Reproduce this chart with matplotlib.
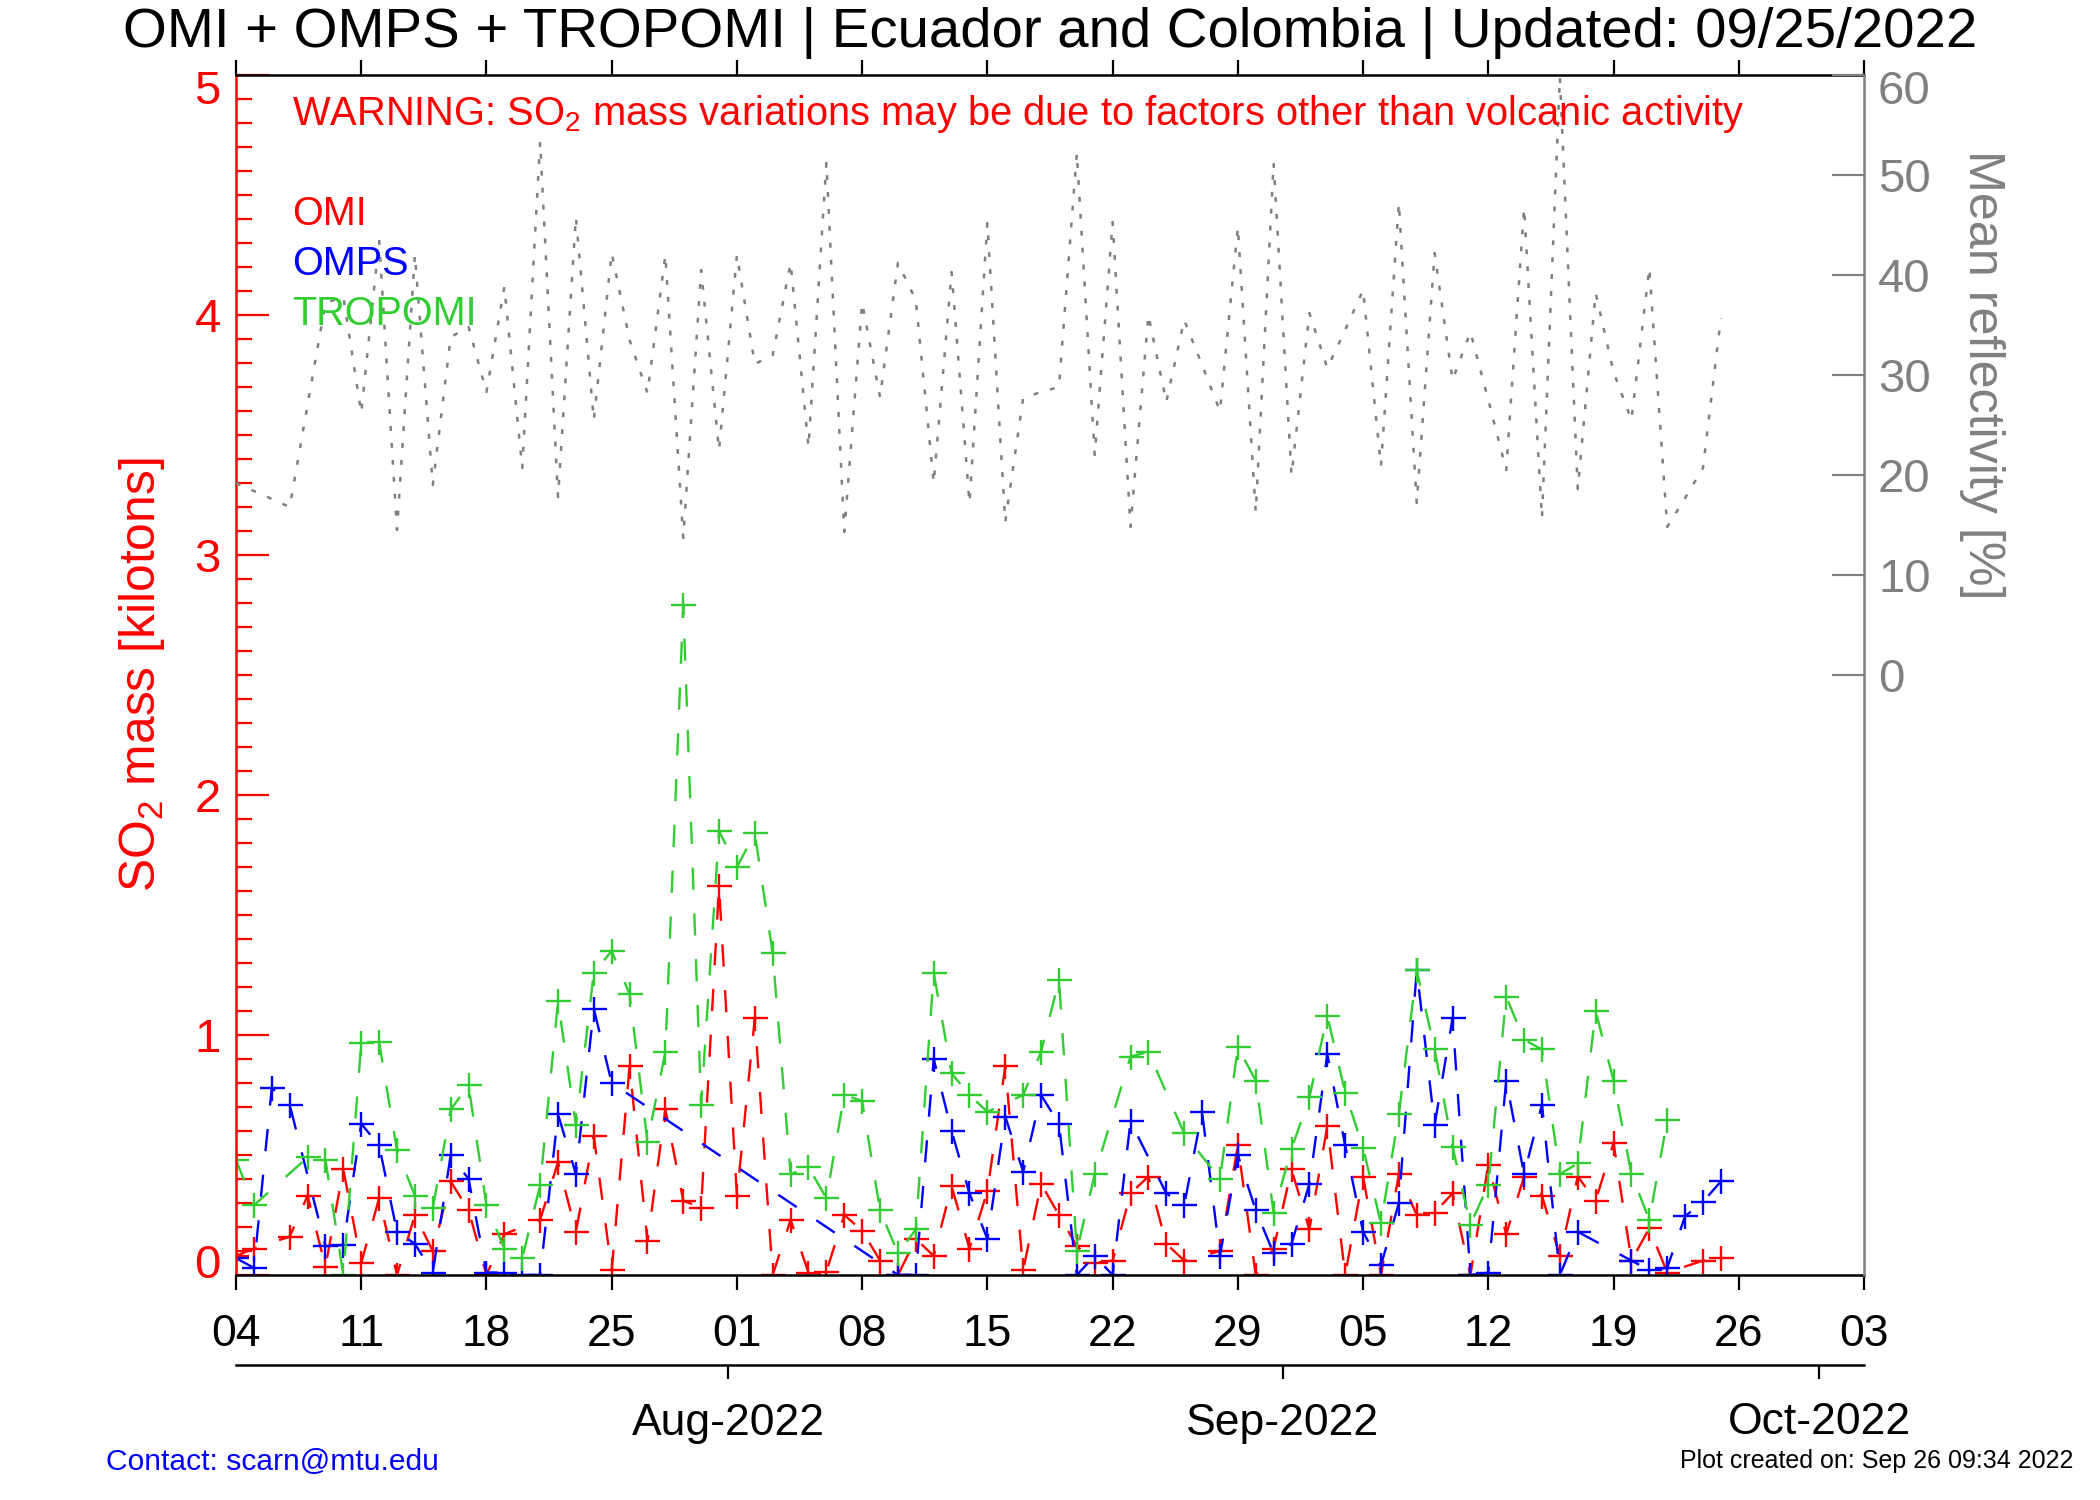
import numpy as np
import matplotlib
matplotlib.use('Agg')
import matplotlib.pyplot as plt
import matplotlib.dates as mdates
from matplotlib.ticker import MultipleLocator, FixedLocator
from matplotlib.transforms import ScaledTranslation

plt.rcParams['font.family'] = ['Liberation Sans', 'DejaVu Sans']
plt.rcParams['mathtext.fontset'] = 'custom'
plt.rcParams['mathtext.rm'] = 'Liberation Sans'
plt.rcParams['mathtext.it'] = 'Liberation Sans:italic'
plt.rcParams['mathtext.default'] = 'regular'
plt.rcParams['lines.scale_dashes'] = False

nan = np.nan

# ---------------- data (one value per day, starting 2022-07-04) ----------------
start_date = '2022-07-04T12:00'
axis_start = '2022-07-04T12:00'
axis_end = '2022-10-03T12:00'

omi = [0.08, 0.11, nan, 0.16, 0.33, 0.035, 0.44, 0.05, 0.32, 0.0,
       0.25, 0.10, 0.39, 0.27, 0.0, 0.17, nan, 0.23, 0.47, 0.18,
       0.58, 0.02, 0.87, 0.14, 0.69, 0.31, 0.28, 1.62, 0.33, 1.07,
       0.0, 0.23, 0.01, 0.014, 0.25, 0.185, 0.06, 0.0, 0.15, 0.08,
       0.37, 0.11, 0.35, 0.87, 0.02, 0.38, 0.25, 0.12, 0.05, 0.06,
       0.34, 0.41, 0.13, 0.06, nan, 0.10, 0.54, 0.0, 0.11, 0.44,
       0.19, 0.62, 0.0, 0.41, 0.0, 0.42, 0.25, 0.26, 0.34, 0.0,
       0.46, 0.17, 0.41, 0.33, 0.08, 0.41, 0.31, 0.55, 0.06, 0.195,
       0.01, nan, 0.06, 0.07]

omps = [0.07, 0.03, 0.78, 0.71, nan, 0.12, 0.125, 0.63, 0.54, 0.18,
        0.13, 0.01, 0.50, 0.40, 0.01, 0.01, 0.0, 0.0, 0.67, 0.42,
        1.11, 0.80, nan, nan, nan, nan, nan, nan, nan, nan,
        nan, nan, nan, nan, nan, nan, nan, 0.0, 0.0, 0.90,
        0.60, 0.34, 0.15, 0.66, 0.43, 0.75, 0.63, 0.0, 0.08, 0.0,
        0.64, nan, 0.34, 0.29, 0.68, 0.08, 0.50, 0.27, 0.09, 0.13,
        0.38, 0.92, 0.54, 0.18, 0.04, 0.30, 1.27, 0.625, 1.07, 0.0,
        0.01, 0.81, 0.42, 0.71, 0.0, 0.18, nan, nan, 0.06, 0.02,
        0.03, 0.245, 0.305, 0.39]

tropomi = [0.48, 0.29, nan, nan, 0.49, 0.48, 0.0, 0.965, 0.97, 0.52,
           0.33, 0.28, 0.69, 0.79, 0.29, 0.11, 0.07, 0.375, 1.14, 0.625,
           1.26, 1.35, 1.17, 0.555, 0.93, 2.79, 0.71, 1.85, 1.70, 1.84,
           1.34, 0.42, 0.45, 0.32, 0.75, 0.725, 0.27, 0.09, 0.19, 1.26,
           0.84, 0.75, 0.68, nan, 0.75, 0.93, 1.23, 0.10, 0.42, nan,
           0.91, 0.93, nan, 0.59, nan, 0.40, 0.95, 0.81, 0.26, 0.525,
           0.74, 1.08, 0.76, 0.53, 0.215, 0.67, 1.27, 0.94, 0.535, 0.21,
           0.375, 1.16, 0.98, 0.94, 0.42, 0.465, 1.10, 0.81, 0.42, 0.23,
           0.645, nan, nan, nan]

reflectivity = [19.2, nan, nan, 16.8, nan, 37.2, 37.8, 26.2, 43.5, 14.5,
                42.0, 19.0, 33.8, 34.8, 28.3, 38.8, 20.7, 53.3, 17.8, 45.8,
                25.5, 42.2, 33.5, 28.2, 42.0, 13.7, 40.5, 22.5, 42.0, 31.1,
                32.0, 41.2, 22.8, 51.2, 14.3, 37.2, 27.8, 41.2, 37.5, 19.2,
                40.3, 17.2, 45.2, 15.3, 27.7, 28.3, 28.8, 52.2, 22.0, 45.3,
                14.8, 36.0, 27.3, 35.5, 31.0, 26.4, 44.8, 16.3, 51.2, 20.0,
                36.2, 30.7, 34.5, 38.5, 20.9, 47.2, 17.2, 42.2, 29.5, 34.3,
                27.5, 20.5, 46.7, 15.7, 59.8, 18.6, 38.2, 30.3, 25.5, 40.7,
                14.8, 17.7, 20.7, 35.7]

series_names = ['OMI', 'OMPS', 'TROPOMI']
series_colors = ['#FF0000', '#0000FF', '#32CD32']
refl_color = '#808080'

title = 'OMI + OMPS + TROPOMI | Ecuador and Colombia | Updated: 09/25/2022'
warning = 'WARNING: SO$_2$ mass variations may be due to factors other than volcanic activity'

# ---------------- figure ----------------
dates = np.datetime64(start_date) + np.arange(len(omi)).astype('timedelta64[D]')
x0 = np.datetime64(axis_start)
x1 = np.datetime64(axis_end)
week_ticks = x0 + (np.arange(0, 92, 7)).astype('timedelta64[D]')

fig = plt.figure(figsize=(21, 15), dpi=100)
L, B, W, H = 236 / 2100, 225 / 1500, 1628 / 2100, 1200 / 1500
ax = fig.add_axes([L, B, W, H])

for vals, col in zip([omi, omps, tropomi], series_colors):
    v = np.array(vals, dtype=float)
    m = ~np.isnan(v)
    ax.plot(dates[m], v[m], color=col, lw=1.7, dashes=(16, 17),
            marker='+', ms=18, mew=1.7)

ax.set_xlim(x0, x1)
ax.set_ylim(0, 5)
ax.yaxis.set_major_locator(MultipleLocator(1))
ax.yaxis.set_minor_locator(MultipleLocator(0.1))
ax.set_xticks(week_ticks)
ax.xaxis.set_major_formatter(mdates.DateFormatter('%d'))

ax.spines['left'].set_color('red')
ax.spines['right'].set_visible(False)
for s in ['left', 'top', 'bottom']:
    ax.spines[s].set_linewidth(1.8)

ax.tick_params(axis='y', which='major', direction='in', length=24, width=1.6,
               color='red', labelcolor='red', labelsize=34, pad=11)
ax.tick_params(axis='y', which='minor', direction='in', length=11.5, width=1.6,
               color='red')
ax.tick_params(axis='x', which='major', direction='out', length=11, width=1.6,
               top=True, bottom=True, labelsize=32, pad=17, color='black')

# reflectivity on the right axis
ax2 = ax.twinx()
r = np.array(reflectivity, dtype=float)
mr = ~np.isnan(r)
ax2.plot(dates[mr], r[mr], color=refl_color, lw=1.8, dashes=(3.5, 8.7))
ax2.set_ylim(-60, 60)
ax2.yaxis.set_major_locator(FixedLocator(np.arange(0, 61, 10)))
for s in ['left', 'top', 'bottom']:
    ax2.spines[s].set_visible(False)
ax2.spines['right'].set_color(refl_color)
ax2.spines['right'].set_linewidth(1.8)
ax2.tick_params(axis='y', which='major', direction='in', length=23, width=1.6,
                color=refl_color, labelcolor=refl_color, labelsize=34, pad=10)

# IDL-style: keep end labels inside the axis
fig.canvas.draw()
lt = ax.yaxis.get_major_ticks()
locs = ax.yaxis.get_majorticklocs()
for t, loc in zip(lt, locs):
    if abs(loc - 5) < 1e-6:
        t.label1.set_transform(t.label1.get_transform() + ScaledTranslation(0, -0.12, fig.dpi_scale_trans))
    if abs(loc) < 1e-6:
        t.label1.set_transform(t.label1.get_transform() + ScaledTranslation(0, 0.14, fig.dpi_scale_trans))
rt = ax2.yaxis.get_major_ticks()
rlocs = ax2.yaxis.get_majorticklocs()
for t, loc in zip(rt, rlocs):
    if abs(loc - 60) < 1e-6:
        t.label2.set_transform(t.label2.get_transform() + ScaledTranslation(0, -0.12, fig.dpi_scale_trans))

# month axis below
ax3 = fig.add_axes([L, 1 - 1365 / 1500, W, 0.0005])
ax3.patch.set_visible(False)
ax3.set_xlim(x0, x1)
ax3.set_yticks([])
for s in ['left', 'right', 'top']:
    ax3.spines[s].set_visible(False)
ax3.spines['bottom'].set_linewidth(1.8)
ax3.xaxis.set_major_locator(mdates.MonthLocator())
ax3.xaxis.set_major_formatter(mdates.DateFormatter('%b-%Y'))
ax3.tick_params(axis='x', direction='out', length=10, width=1.6, labelsize=32, pad=17)

# texts
fig.text(0.5, 1 - 33 / 1500, title, ha='center', va='center', fontsize=40.6)
fig.text(292 / 2100, 1 - 125 / 1500, warning, color='red', fontsize=28.7,
         ha='left', va='baseline')
for i, (name, col) in enumerate(zip(series_names, series_colors)):
    fig.text(292 / 2100, 1 - (225 + 50 * i) / 1500, name, color=col, fontsize=28.5,
             ha='left', va='baseline')
fig.text(142 / 2100, 1 - 675 / 1500, 'SO$_2$ mass [kilotons]', rotation=90,
         color='red', fontsize=35.8, ha='center', va='center')
fig.text(1982 / 2100, 1 - 375 / 1500, 'Mean reflectivity [%]', rotation=270,
         color=refl_color, fontsize=36.2, ha='center', va='center')
fig.text(106 / 2100, 1 - 1470 / 1500, 'Contact: scarn@mtu.edu', color='blue',
         fontsize=21.6, ha='left', va='baseline')
fig.text(2073 / 2100, 1 - 1468 / 1500, 'Plot created on: Sep 26 09:34 2022',
         color='black', fontsize=18, ha='right', va='baseline')

fig.savefig('out.png', dpi=100)
